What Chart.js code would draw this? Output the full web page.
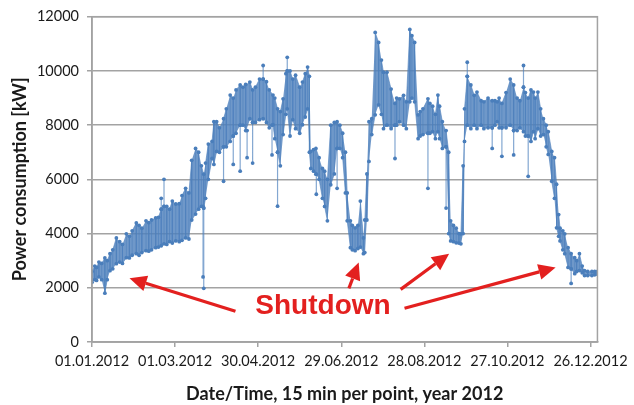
<!DOCTYPE html>
<html>
<head>
<meta charset="utf-8">
<script src="https://cdn.jsdelivr.net/npm/chart.js@4/dist/chart.umd.min.js"></script>
<style>
  body { margin: 0; background: #fff; }
  canvas { display: block; }
</style>
</head>
<body>
<canvas id="powerChart" width="634" height="405"></canvas>
<script>
// day of year 2012 (0 = 01.01.2012), lower and upper edge of the dense band around that day, in kW
const days = [0, 2, 3.3, 5, 7, 9.3, 11, 13, 15, 17.6, 20, 22, 24.8, 27, 29, 32, 34, 36, 39, 41, 43, 46, 48, 50, 52, 54, 56, 58, 60.5, 63, 65, 67.6, 70, 72, 74.8, 77, 79, 80.7, 82, 84, 86.7, 88, 90, 92, 95, 97, 99.8, 102, 104, 107, 109, 111, 114, 116, 118, 121, 123.6, 126, 128, 130.7, 132, 134, 136, 138, 140, 141, 143, 145, 147, 150, 152, 154, 155.7, 157, 158, 160, 161.7, 164, 166.4, 168, 170, 172.4, 175, 177, 179, 181, 183, 184.3, 186.6, 188, 190, 192, 193.8, 196, 197, 198.5, 200, 202, 204.5, 207, 209, 210.5, 213, 216, 218.8, 220, 222, 225, 227, 229.5, 231, 233, 235.5, 237, 239, 242.6, 244, 246, 248, 249.8, 251, 253, 255.7, 257.6, 259, 261, 263, 265, 266.4, 268, 269, 271, 273.6, 276, 278, 281, 283, 286, 289, 291, 292.6, 294, 296, 299, 302, 304.5, 307, 309, 311.6, 313, 315, 317, 318.8, 320, 322, 324, 326, 328, 329.5, 332, 334, 335.5, 337, 338, 340, 341.4, 343.8, 346, 348.6, 350, 352, 354, 355.7, 358, 361, 363, 365];
const lows = [2200, 2300, 2270, 2400, 2300, 1800, 2300, 2630, 2700, 2890, 2950, 2900, 3110, 3100, 3200, 3260, 3200, 3300, 3370, 3350, 3400, 3480, 3500, 3550, 3620, 3600, 3700, 3650, 3730, 3700, 3750, 3840, 3800, 4500, 4720, 4900, 5000, 4940, 5300, 6000, 6770, 6550, 7030, 7000, 7200, 7200, 7400, 7600, 7700, 8000, 8000, 7800, 8235, 8100, 8100, 8200, 8235, 8100, 7900, 8015, 7500, 7000, 6500, 7650, 8400, 8600, 7600, 8200, 7870, 7700, 8015, 8300, 8600, 7000, 6400, 6300, 6190, 6000, 5300, 5000, 4470, 5800, 6200, 7140, 7140, 6800, 5500, 4470, 3480, 3400, 3370, 3450, 3500, 3260, 3300, 4500, 6660, 7650, 8380, 8750, 8400, 7870, 8000, 7870, 8000, 8000, 8125, 8000, 7870, 8860, 9000, 8860, 7500, 7600, 7650, 7700, 7700, 7760, 7500, 7760, 7500, 7140, 7200, 4000, 3730, 3700, 3660, 3650, 3620, 4000, 7400, 8000, 7870, 8000, 7870, 8000, 7870, 7900, 7900, 8000, 8125, 7900, 7900, 7900, 8000, 7800, 7800, 7900, 7760, 7600, 7600, 7400, 7760, 7500, 7870, 7600, 7650, 7200, 6920, 5930, 5300, 4210, 3900, 3730, 3400, 3260, 2750, 2700, 2520, 2600, 2635, 2550, 2450, 2450, 2450, 2480, 2500];
const highs = [2600, 2800, 2750, 2950, 2900, 3100, 3000, 3260, 3400, 3840, 3700, 3600, 3990, 3900, 4100, 4390, 4300, 4200, 4470, 4400, 4500, 4580, 4600, 4900, 5000, 5000, 4900, 5200, 5090, 5100, 5400, 5670, 5500, 6700, 7140, 7000, 6500, 6190, 6600, 7300, 7400, 8125, 8125, 7900, 8235, 8600, 9110, 9000, 9300, 9480, 9400, 9500, 9590, 9300, 9400, 9700, 9700, 9600, 9300, 9110, 9000, 8600, 8500, 8970, 9900, 10000, 10000, 9700, 9840, 9400, 9590, 9900, 10140, 9800, 7030, 7100, 7140, 6800, 6400, 6300, 6000, 8000, 8100, 8125, 8000, 7700, 7000, 5500, 4470, 4300, 4210, 4300, 5200, 3840, 4500, 6200, 8125, 8235, 11420, 11050, 10400, 9950, 9950, 9330, 8800, 9000, 8970, 9100, 8860, 11530, 11300, 11050, 8380, 8500, 8600, 8970, 8800, 8700, 8400, 9110, 8700, 8125, 7800, 7000, 4470, 4300, 4200, 4000, 3990, 6500, 8600, 9800, 9480, 9100, 9220, 8900, 8860, 9000, 8900, 8900, 8860, 9000, 8800, 9200, 9700, 9480, 9000, 8900, 9400, 9200, 9000, 9300, 9220, 9000, 9220, 8600, 8235, 8000, 7760, 7030, 6800, 5820, 4700, 4200, 4100, 3990, 3480, 3260, 3110, 3000, 3260, 2800, 2635, 2600, 2600, 2600, 2600];

// single readings that stick out of the band: day, band edge, reading
const spikeDays = [50, 52, 80.2, 80.7, 95, 102, 107, 112, 116, 123.6, 130, 134, 141, 162, 177, 218.8, 242.6, 255.7, 271, 289, 296, 304.5, 311.6, 315, 346];
const spikeFrom = [4900, 5000, 5000, 4940, 7200, 7600, 8000, 7800, 8100, 9700, 8000, 7000, 10000, 6190, 7140, 8000, 7700, 7200, 9800, 7900, 7900, 7800, 9400, 7600, 2700];
const spikeTo = [5300, 6000, 2400, 1980, 5930, 6550, 6300, 6800, 6600, 10200, 6900, 5010, 10500, 5450, 5670, 6770, 5670, 4940, 10320, 7140, 6850, 6900, 10200, 6110, 2160];

const tickDays = [0, 60, 120, 180, 240, 300, 360];
const tickLabels = ['01.01.2012', '01.03.2012', '30.04.2012', '29.06.2012', '28.08.2012', '27.10.2012', '26.12.2012'];

// annotation: arrows from the label to the shutdown dips, in data units [day, kW]
const arrowTails = [[103.6, 1135], [185.5, 1980], [222.9, 1940], [225.7, 1245]];
const arrowHeads = [[27.1, 2350], [192.6, 2930], [257.9, 3260], [334.8, 2750]];
const labelText = 'Shutdown';
const labelAt = [166.8, 1320];

// band edges traced back and forth so the band looks filled with readings
const points = [];
days.forEach((d, i) => {
    if (i % 2 === 0) {
        points.push({ x: d, y: lows[i] });
        points.push({ x: d, y: highs[i] });
    } else {
        points.push({ x: d, y: highs[i] });
        points.push({ x: d, y: lows[i] });
    }
});
const lowLine = days.map((d, i) => ({ x: d, y: lows[i] }));
const highLine = days.map((d, i) => ({ x: d, y: highs[i] }));
const spikePoints = [];
spikeDays.forEach((d, i) => {
    spikePoints.push({ x: d, y: spikeFrom[i] });
    spikePoints.push({ x: d, y: spikeTo[i] });
    spikePoints.push({ x: d, y: null });
});

const blue = '#4a7ebb';
const tickFont = { family: 'Lato', size: 14.5 };
const titleFont = { family: 'Lato', size: 18, weight: 'bold' };

const frame = {
    id: 'frame',
    afterDraw(chart) {
        const a = chart.chartArea;
        const ctx = chart.ctx;
        ctx.save();
        ctx.strokeStyle = '#a3a3a3';
        ctx.lineWidth = 1.5;
        ctx.strokeRect(a.left, a.top, a.right - a.left, a.bottom - a.top);
        ctx.restore();
    }
};

const shutdownNotes = {
    id: 'shutdownNotes',
    afterDraw(chart) {
        const ctx = chart.ctx;
        const xs = chart.scales.x;
        const ys = chart.scales.y;
        ctx.save();
        ctx.strokeStyle = '#e3201f';
        ctx.fillStyle = '#e3201f';
        ctx.lineWidth = 3.2;
        arrowTails.forEach((t, i) => {
            const x1 = xs.getPixelForValue(t[0]), y1 = ys.getPixelForValue(t[1]);
            const x2 = xs.getPixelForValue(arrowHeads[i][0]), y2 = ys.getPixelForValue(arrowHeads[i][1]);
            const ang = Math.atan2(y2 - y1, x2 - x1);
            const headLen = 17, headHalf = 8;
            const bx = x2 - headLen * Math.cos(ang), by = y2 - headLen * Math.sin(ang);
            ctx.beginPath();
            ctx.moveTo(x1, y1);
            ctx.lineTo(bx, by);
            ctx.stroke();
            ctx.beginPath();
            ctx.moveTo(x2, y2);
            ctx.lineTo(bx + headHalf * Math.sin(ang), by - headHalf * Math.cos(ang));
            ctx.lineTo(bx - headHalf * Math.sin(ang), by + headHalf * Math.cos(ang));
            ctx.closePath();
            ctx.fill();
        });
        ctx.font = 'bold 28px "Liberation Sans", Arial, sans-serif';
        ctx.textAlign = 'center';
        ctx.textBaseline = 'middle';
        ctx.fillText(labelText, xs.getPixelForValue(labelAt[0]), ys.getPixelForValue(labelAt[1]));
        ctx.restore();
    }
};

new Chart(document.getElementById('powerChart'), {
    type: 'line',
    data: {
        datasets: [{
            data: points,
            order: 0,
            borderColor: 'rgba(79, 129, 189, 0.6)',
            borderWidth: 1,
            pointRadius: 1.9,
            pointBorderWidth: 0,
            pointBackgroundColor: blue,
            tension: 0
        }, {
            data: spikePoints,
            order: 0,
            spanGaps: false,
            borderColor: 'rgba(79, 129, 189, 0.7)',
            borderWidth: 1.2,
            pointRadius: 1.9,
            pointBorderWidth: 0,
            pointBackgroundColor: blue
        }, {
            data: lowLine,
            order: 1,
            borderWidth: 0,
            pointRadius: 0,
            fill: false
        }, {
            data: highLine,
            order: 2,
            borderWidth: 0,
            pointRadius: 0,
            backgroundColor: 'rgba(79, 129, 189, 0.82)',
            fill: '-1'
        }]
    },
    options: {
        responsive: false,
        animation: false,
        layout: { padding: { top: 14, right: 31, left: 0, bottom: 0 } },
        plugins: {
            legend: { display: false },
            tooltip: { enabled: false }
        },
        scales: {
            x: {
                type: 'linear',
                min: 0,
                max: 365,
                afterBuildTicks: (scale) => {
                    scale.ticks = tickDays.map(v => ({ value: v }));
                },
                afterFit: (scale) => { scale.height = 63; },
                grid: {
                    drawOnChartArea: false,
                    drawTicks: true,
                    tickLength: 5,
                    color: '#a3a3a3',
                    lineWidth: 1.5
                },
                border: { color: '#a3a3a3', width: 1.5 },
                ticks: {
                    font: tickFont,
                    color: '#1a1a1a',
                    padding: 6,
                    maxRotation: 0,
                    autoSkip: false,
                    callback: (v, i) => tickLabels[i]
                },
                title: {
                    display: true,
                    text: 'Date/Time, 15 min per point, year 2012',
                    font: titleFont,
                    color: '#1a1a1a',
                    padding: { top: 6, bottom: 0 }
                }
            },
            y: {
                min: 0,
                max: 12000,
                afterFit: (scale) => { scale.width = 92; },
                grid: {
                    color: '#a3a3a3',
                    lineWidth: 1.5,
                    tickLength: 5
                },
                border: { color: '#a3a3a3', width: 1.5 },
                ticks: {
                    stepSize: 2000,
                    font: tickFont,
                    color: '#1a1a1a',
                    padding: 8,
                    callback: (v) => String(v)
                },
                title: {
                    display: true,
                    text: 'Power consumption [kW]',
                    font: titleFont,
                    color: '#1a1a1a',
                    padding: { top: 9, bottom: 4 }
                }
            }
        }
    },
    plugins: [frame, shutdownNotes]
});
</script>
</body>
</html>
